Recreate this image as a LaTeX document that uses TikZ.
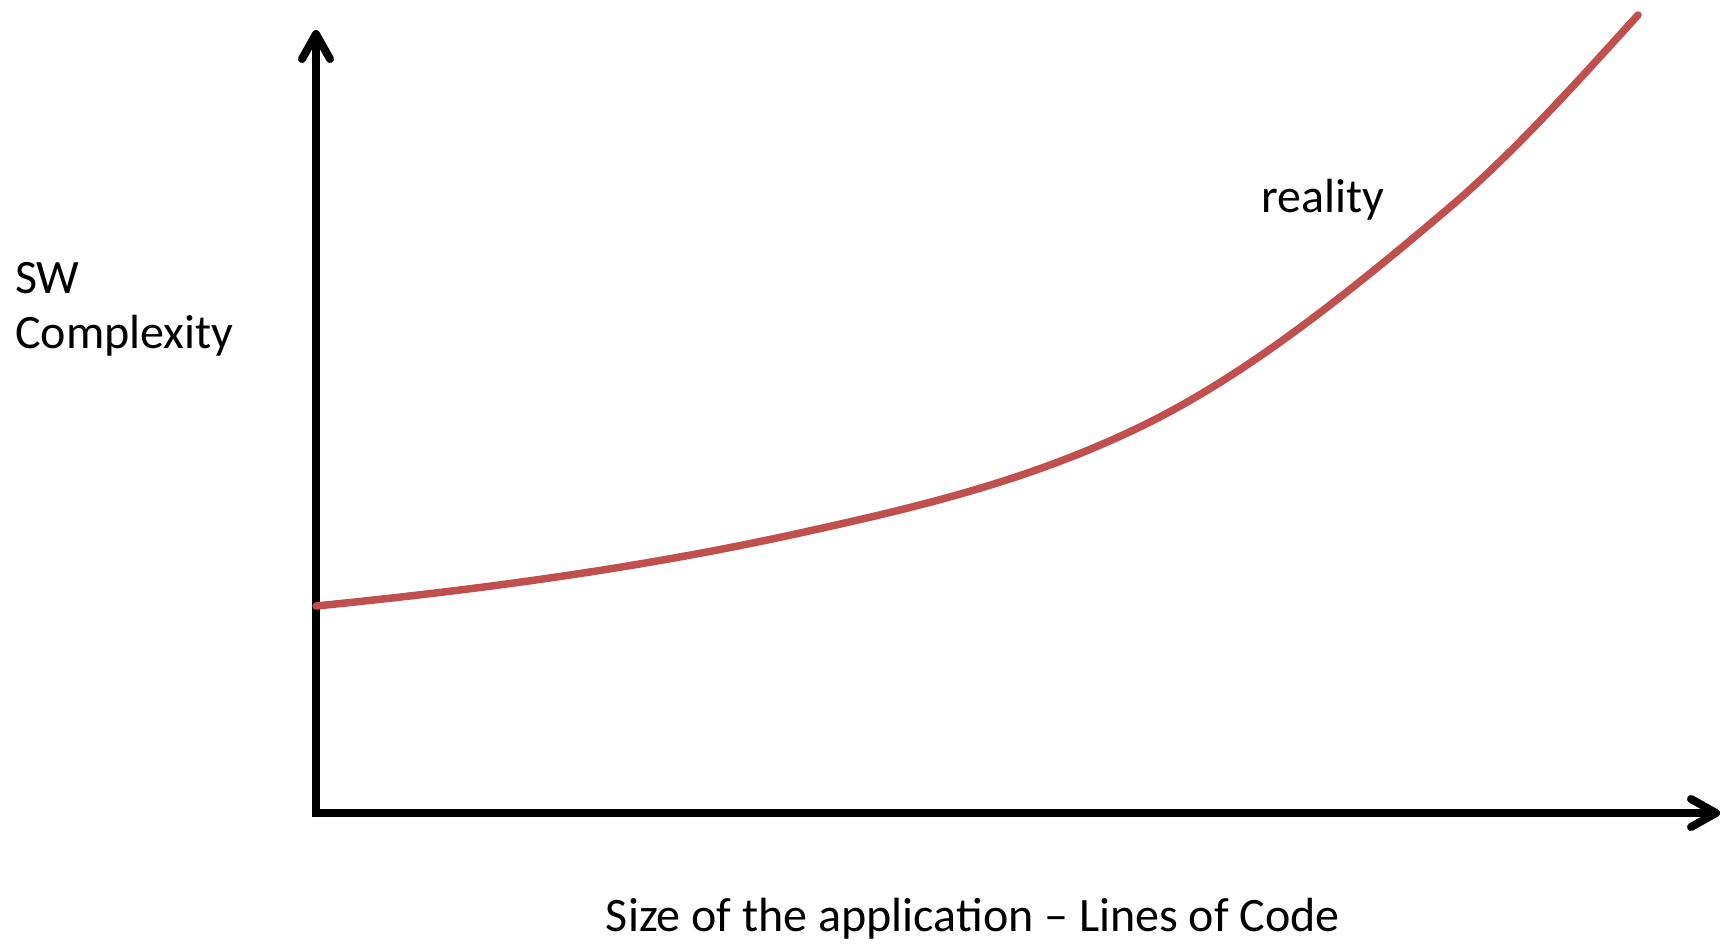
\documentclass[tikz,border=0pt]{standalone}
\usepackage{fontspec}
\setmainfont{Carlito}
\definecolor{curvered}{HTML}{C0504D}
\begin{document}
\begin{tikzpicture}[x=1pt,y=-1pt,
  axisline/.style={line width=8pt,black,line join=miter},
  arrowhd/.style={line width=8pt,black,line join=round,line cap=round},
  curveline/.style={line width=7.5pt,curvered,line cap=round,line join=round},
  lbl/.style={inner sep=0pt,font=\fontsize{48}{56}\selectfont}]
\useasboundingbox (0,0) rectangle (1720,943);
\coordinate (O) at (316,813);
\coordinate (ytip) at (316,34);
\coordinate (xtip) at (1716,813);
\coordinate (ya1) at (302,59);
\coordinate (ya2) at (330,59);
\coordinate (xa1) at (1691,799);
\coordinate (xa2) at (1691,827);
\draw[axisline] (ytip) -- (O) -- (xtip);
\draw[arrowhd] (ya1) -- (ytip) -- (ya2);
\draw[arrowhd] (xa1) -- (xtip) -- (xa2);
\coordinate (c0) at (316,606);
\coordinate (c1) at (800,533);
\coordinate (c2) at (1150,422);
\coordinate (c3) at (1450,207);
\coordinate (c4) at (1638,15);
\draw[curveline] (c0) .. controls (477.3,589.9) and (638.7,568.5) .. (c1)
  .. controls (916.7,507.3) and (1033.3,480.3) .. (c2)
  .. controls (1250,372) and (1350,292) .. (c3)
  .. controls (1512.7,153.7) and (1575.3,84) .. (c4);
\node[lbl,anchor=base west] (sw) at (15,293) {SW};
\node[lbl,anchor=base west] (cx) at (15,348) {Complexity};
\node[lbl,anchor=base west] (real) at (1261,212) {reality};
\node[lbl,anchor=base] (xl) at (973,931) {Size of the application – Lines of Code};
\end{tikzpicture}
\end{document}
